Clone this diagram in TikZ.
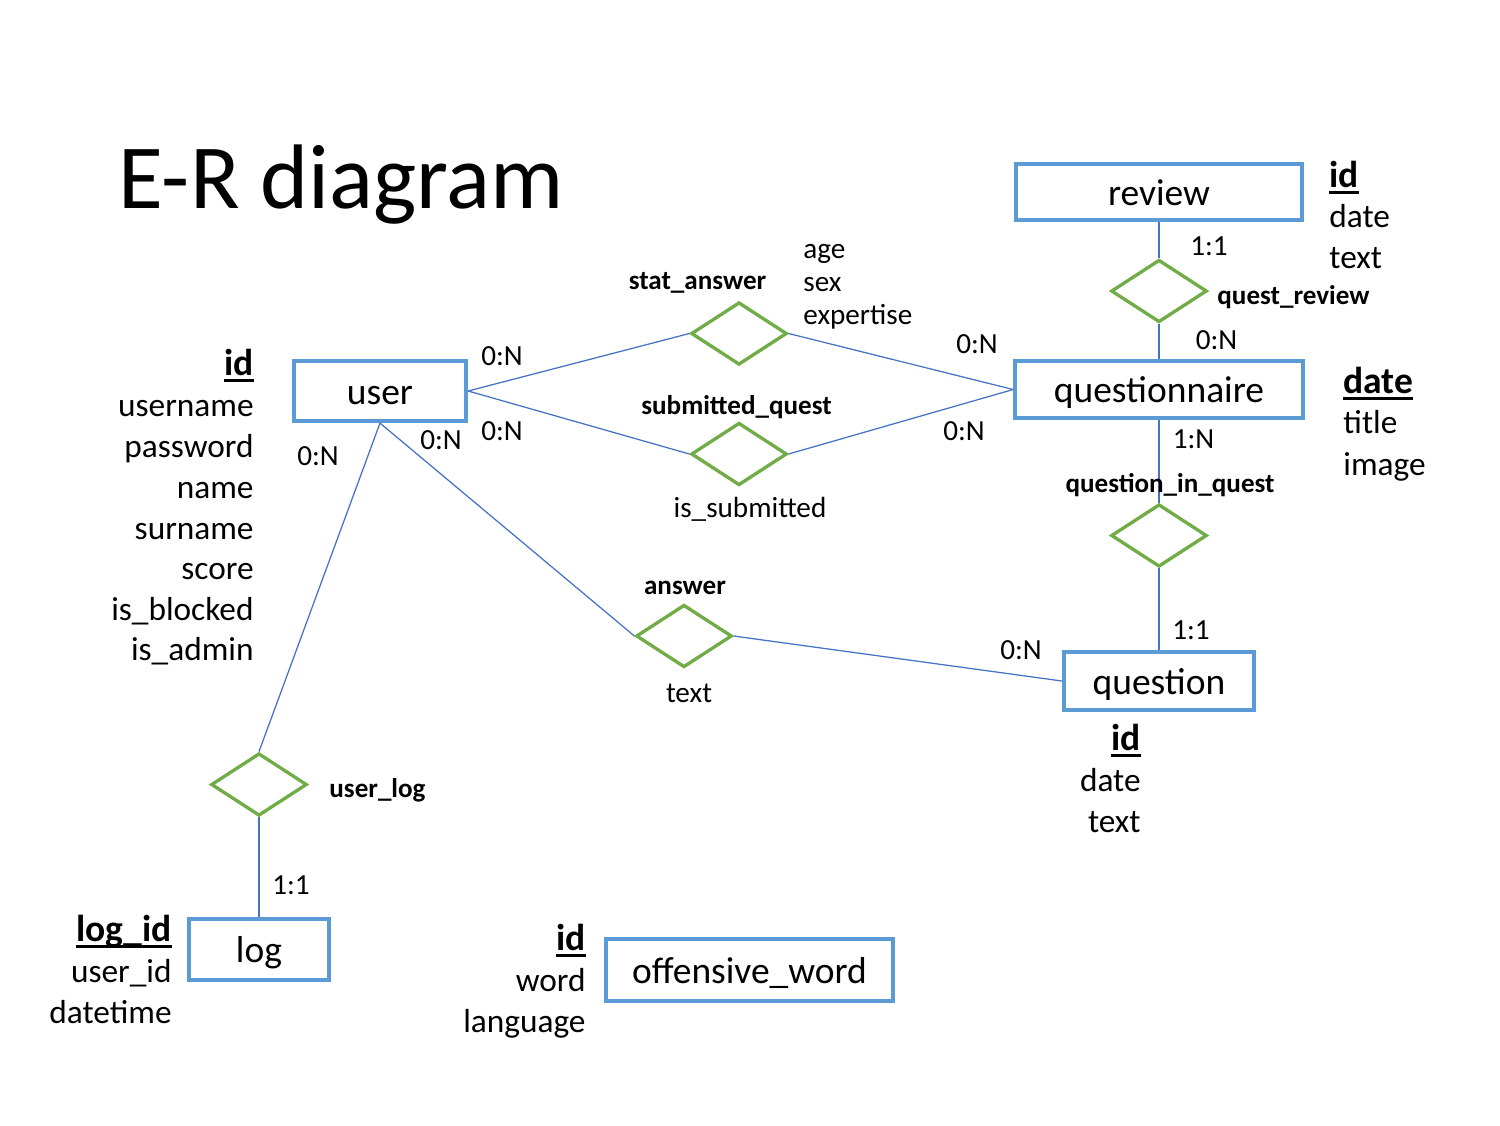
\documentclass[tikz,border=0pt]{standalone}
\usepackage{fontspec}
\setmainfont{Carlito}
\usetikzlibrary{shapes.geometric}
\definecolor{entblue}{HTML}{5B9BD5}
\definecolor{relgreen}{HTML}{70AD47}
\definecolor{lineblue}{HTML}{4472C4}
\newcommand{\keyul}[1]{\setbox0=\hbox{#1}\rlap{\rule[-3.3pt]{\wd0}{1.4pt}}\box0}
\tikzset{
  entity/.style={draw=entblue, line width=2pt, fill=white, inner sep=0pt,
    font=\fontsize{18}{21.6}\selectfont, text height=16.2pt, text depth=3.6pt},
  rel/.style={diamond, draw=relgreen, line width=1.6pt, minimum width=46pt,
    minimum height=30pt, inner sep=0pt},
  conn/.style={draw=lineblue, line width=0.6pt},
  card/.style={font=\fontsize{14}{16.8}\selectfont, inner sep=0pt},
  rlabel/.style={font=\fontsize{13}{15.6}\selectfont\bfseries, inner sep=0pt},
  small/.style={font=\fontsize{14}{16.8}\selectfont, inner sep=0pt},
  attr/.style={font=\fontsize{16}{19.2}\selectfont, inner sep=0pt},
  keyattr/.style={font=\fontsize{18}{21.6}\selectfont\bfseries, inner sep=0pt}
}
\begin{document}
\begin{tikzpicture}[x=0.48pt,y=-0.48pt]
\useasboundingbox (0,0) rectangle (1500,1125);

% title
\node[font=\fontsize{44}{52.8}\selectfont, inner sep=0pt, anchor=base west] (title) at (118,208) {E-R diagram};

% entities
\node[entity, minimum width=137.3pt, minimum height=26.9pt] (review) at (1159,192) {review};
\node[entity, minimum width=138pt, minimum height=27.4pt] (questionnaire) at (1159,389.5) {questionnaire};
\node[entity, minimum width=82.6pt, minimum height=28.8pt] (user) at (380,391) {user};
\node[entity, minimum width=91.2pt, minimum height=27.8pt] (question) at (1159,681) {question};
\node[entity, minimum width=67.2pt, minimum height=29.3pt] (log) at (259,949.5) {log};
\node[entity, minimum width=137.8pt, minimum height=29.8pt] (offensive) at (749.5,970) {offensive\_word};

% relationships
\node[rel] (stat) at (739,333.5) {};
\node[rel] (submitted) at (739,454) {};
\node[rel] (questreview) at (1159,291) {};
\node[rel] (qinq) at (1159,535.5) {};
\node[rel] (answer) at (684,636) {};
\node[rel] (userlog) at (259,784.5) {};

% connectors
\draw[conn] (user.east) -- (stat.west);
\draw[conn] (stat.east) -- (questionnaire.west);
\draw[conn] (user.east) -- (submitted.west);
\draw[conn] (submitted.east) -- (questionnaire.west);
\draw[conn] (review.south) -- (questreview.north);
\draw[conn] (questreview.south) -- (questionnaire.north);
\draw[conn] (questionnaire.south) -- (qinq.north);
\draw[conn] (qinq.south) -- (question.north);
\draw[conn] (user.south) -- (userlog.north);
\draw[conn] (user.south) -- (answer.west);
\draw[conn] (answer.east) -- (question.west);
\draw[conn] (userlog.south) -- (log.north);

% relationship labels
\node[rlabel, anchor=base] (lstat) at (697.5,289) {stat\_answer};
\node[rlabel, anchor=base] (lsub) at (736.5,414) {submitted\_quest};
\node[rlabel, anchor=base west] (lqr) at (1217,304) {quest\_review};
\node[rlabel, anchor=base] (lqinq) at (1170,492) {question\_in\_quest};
\node[rlabel, anchor=base] (lans) at (685,594) {answer};
\node[rlabel, anchor=base west] (lul) at (329,797) {user\_log};

% relationship attributes
\node[small, anchor=base west] (sa1) at (803,258) {age};
\node[small, anchor=base west] (sa2) at (803,291) {sex};
\node[small, anchor=base west] (sa3) at (803,324) {expertise};
\node[small, anchor=base] (sq1) at (750,517) {is\_submitted};
\node[small, anchor=base] (an1) at (689,702) {text};

% cardinalities
\node[card] (c1) at (502,356) {0:N};
\node[card] (c2) at (502,431) {0:N};
\node[card] (c3) at (441,440) {0:N};
\node[card] (c4) at (318,456) {0:N};
\node[card] (c5) at (977,344) {0:N};
\node[card] (c6) at (964,431) {0:N};
\node[card] (c7) at (1209,246) {1:1};
\node[card] (c8) at (1216.5,340) {0:N};
\node[card] (c9) at (1193.5,439) {1:N};
\node[card] (c10) at (1191,630) {1:1};
\node[card] (c11) at (1021,650) {0:N};
\node[card] (c12) at (291,885) {1:1};

% user attributes
\node[keyattr, anchor=base east] (u0) at (254,375) {\keyul{id}};
\node[attr, anchor=base east] (u1) at (254,416) {username};
\node[attr, anchor=base east] (u2) at (254,457) {password};
\node[attr, anchor=base east] (u3) at (254,498) {name};
\node[attr, anchor=base east] (u4) at (254,539) {surname};
\node[attr, anchor=base east] (u5) at (254,579) {score};
\node[attr, anchor=base east] (u6) at (254,620) {is\_blocked};
\node[attr, anchor=base east] (u7) at (254,660) {is\_admin};

% review attributes
\node[keyattr, anchor=base west] (r0) at (1329,187) {\keyul{id}};
\node[attr, anchor=base west] (r1) at (1329,227) {date};
\node[attr, anchor=base west] (r2) at (1329,268) {text};

% questionnaire attributes
\node[keyattr, anchor=base west] (q0) at (1343,393) {\keyul{date}};
\node[attr, anchor=base west] (q1) at (1343,433) {title};
\node[attr, anchor=base west] (q2) at (1343,475) {image};

% question attributes
\node[keyattr, anchor=base east] (qu0) at (1141,750) {\keyul{id}};
\node[attr, anchor=base east] (qu1) at (1141,791) {date};
\node[attr, anchor=base east] (qu2) at (1141,832) {text};

% log attributes
\node[keyattr, anchor=base east] (l0) at (172,941) {\keyul{log\_id}};
\node[attr, anchor=base east] (l1) at (172,982) {user\_id};
\node[attr, anchor=base east] (l2) at (172,1023) {datetime};

% offensive_word attributes
\node[keyattr, anchor=base east] (o0) at (586,950) {\keyul{id}};
\node[attr, anchor=base east] (o1) at (586,991) {word};
\node[attr, anchor=base east] (o2) at (586,1032) {language};
\end{tikzpicture}
\end{document}
